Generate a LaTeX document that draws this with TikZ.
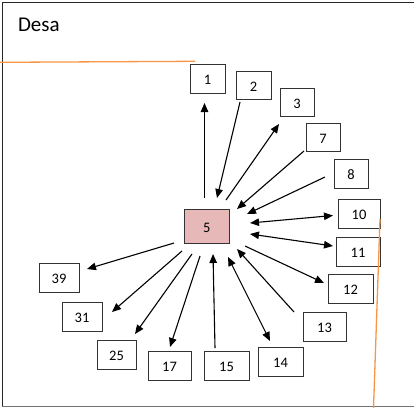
\documentclass[tikz,border=0pt]{standalone}
\usepackage{fontspec}
\setmainfont{Carlito}
\usetikzlibrary{arrows.meta}
\definecolor{frameorange}{RGB}{247,150,70}
\definecolor{pinkfill}{RGB}{230,184,183}
\tikzset{
  numbox/.style={draw=black!80, line width=0.9pt, fill=white, inner sep=0pt,
    font=\fontsize{14.5}{16}\selectfont, text height=12pt, text depth=0pt},
  conn/.style={line width=1.1pt, black},
  tipend/.style={-{Triangle[length=9pt,width=7.5pt]}},
  tipboth/.style={{Triangle[length=9pt,width=7.5pt]}-{Triangle[length=9pt,width=7.5pt]}},
  orangeline/.style={draw=frameorange, line width=1.3pt}
}
\begin{document}
\begin{tikzpicture}[x=1pt,y=-1pt]
\useasboundingbox (0,0) rectangle (414,408);
% frame
\draw[black!85, line width=1.3pt] (414,2.5) -- (2.7,2.5) -- (2.7,406.7);
\draw[black!55, line width=1pt] (2.2,406.7) -- (414,406.7);
\node[anchor=base west, inner sep=0pt, font=\fontsize{21}{24}\selectfont] (desa) at (17.8,31) {Desa};
% boxes
\node[numbox, minimum width=45.5pt, minimum height=34pt, fill=pinkfill] (n5) at (206.75,226) {5};
\node[numbox, minimum width=35pt, minimum height=29pt] (n1) at (207.5,78.5) {1};
\node[numbox, minimum width=35pt, minimum height=28pt] (n2) at (253.5,85) {2};
\node[numbox, minimum width=34pt, minimum height=28pt] (n3) at (297,102) {3};
\node[numbox, minimum width=34pt, minimum height=28pt] (n7) at (323,137) {7};
\node[numbox, minimum width=34pt, minimum height=29pt] (n8) at (351,173.5) {8};
\node[numbox, minimum width=42pt, minimum height=29pt] (n10) at (359,213.5) {10};
\node[numbox, minimum width=44pt, minimum height=29pt] (n11) at (358,251.5) {11};
\node[numbox, minimum width=45pt, minimum height=29pt] (n12) at (350.5,288.5) {12};
\node[numbox, minimum width=43pt, minimum height=29pt] (n13) at (324.5,326.5) {13};
\node[numbox, minimum width=45pt, minimum height=29pt] (n14) at (280.5,361.5) {14};
\node[numbox, minimum width=45pt, minimum height=29pt] (n15) at (226.5,365.5) {15};
\node[numbox, minimum width=43pt, minimum height=29pt] (n17) at (169.5,365.5) {17};
\node[numbox, minimum width=39pt, minimum height=29pt] (n25) at (116.5,354.5) {25};
\node[numbox, minimum width=40pt, minimum height=29pt] (n31) at (82,316.5) {31};
\node[numbox, minimum width=40pt, minimum height=29pt] (n39) at (59,277.5) {39};
% connector end points
\coordinate (a1s) at (204.5,198); \coordinate (a1e) at (204.5,103);
\coordinate (a2s) at (240,102);   \coordinate (a2e) at (217,198);
\coordinate (a3s) at (226,200);   \coordinate (a3e) at (279,124);
\coordinate (a7s) at (304,151);   \coordinate (a7e) at (237,209);
\coordinate (a8s) at (325,177);   \coordinate (a8e) at (247,214);
\coordinate (a10s) at (250,223);  \coordinate (a10e) at (333,215.5);
\coordinate (a11s) at (250,234);  \coordinate (a11e) at (333,246);
\coordinate (a12s) at (245,246);  \coordinate (a12e) at (324,283);
\coordinate (a13s) at (294,312);  \coordinate (a13e) at (237,249);
\coordinate (a14s) at (228,257);  \coordinate (a14e) at (270,341);
\coordinate (a15s) at (215,348);  \coordinate (a15e) at (213,254);
\coordinate (a17s) at (200,256);  \coordinate (a17e) at (170,347);
\coordinate (a25s) at (192,254);  \coordinate (a25e) at (135,334);
\coordinate (a31s) at (182,251);  \coordinate (a31e) at (112,312);
\coordinate (a39s) at (174,243);  \coordinate (a39e) at (87,269);
% connectors
\draw[conn, tipend] (a1s) -- (a1e);
\draw[conn, tipend] (a2s) -- (a2e);
\draw[conn, tipend] (a3s) -- (a3e);
\draw[conn, tipend] (a7s) -- (a7e);
\draw[conn, tipend] (a8s) -- (a8e);
\draw[conn, tipboth] (a10s) -- (a10e);
\draw[conn, tipboth] (a11s) -- (a11e);
\draw[conn, tipend] (a12s) -- (a12e);
\draw[conn, tipend] (a13s) -- (a13e);
\draw[conn, tipboth] (a14s) -- (a14e);
\draw[conn, tipend] (a15s) -- (a15e);
\draw[conn, tipend] (a17s) -- (a17e);
\draw[conn, tipend] (a25s) -- (a25e);
\draw[conn, tipend] (a31s) -- (a31e);
\draw[conn, tipend] (a39s) -- (a39e);
% orange lines
\coordinate (o1a) at (0,62.3); \coordinate (o1b) at (195,61.3);
\coordinate (o2a) at (380,219); \coordinate (o2b) at (373.5,408);
\draw[orangeline] (o1a) -- (o1b);
\draw[orangeline] (o2a) -- (o2b);
\end{tikzpicture}
\end{document}
